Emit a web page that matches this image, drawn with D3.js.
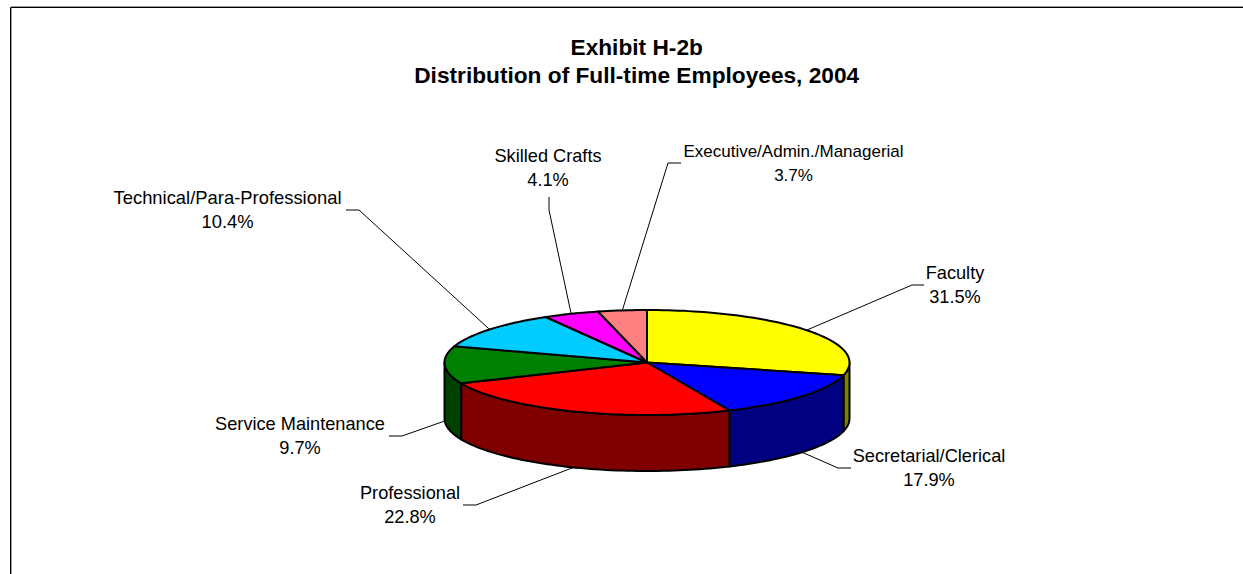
<!DOCTYPE html>
<html><head><meta charset="utf-8">
<script src="https://cdn.jsdelivr.net/npm/d3@7"></script>
<style>html,body{margin:0;padding:0;background:#fff;overflow:hidden}svg{display:block}text{font-family:"Liberation Sans",Arial,sans-serif;fill:#000}</style>
</head><body><div id="chart"></div>
<script>
const categories = ["Faculty","Secretarial/Clerical","Professional","Service Maintenance","Technical/Para-Professional","Skilled Crafts","Executive/Admin./Managerial"];
const shares = [31.5,17.9,22.8,9.7,10.4,4.1,3.7];
const shareLabels = ["31.5%","17.9%","22.8%","9.7%","10.4%","4.1%","3.7%"];
const titleLines = ["Exhibit H-2b","Distribution of Full-time Employees, 2004"];
const topColors = ["#FFFF00","#0000FF","#FF0000","#008000","#00CCFF","#FF00FF","#FF8080"];
const sideColors = ["#808000","#000080","#800000","#004000","#006680","#800080","#804040"];
// The 3-D perspective of the original compresses some slices: true angle -> drawn ellipse angle (degrees)
const projectedEnds = [0,104,156,246.6,288,330,346,360];
// Label layout: label centre x, first baseline y, font size, elbow x/y, leader end x/y
const labelX = [955,929,410,300,227.5,548,793.5];
const labelY = [279,462,499,430,204,162,157];
const labelSize = [18.2,18.2,18.2,18.2,18.4,18.2,17];
const elbowX = [912,838,476,402,359,549,668];
const elbowY = [285,468,505,436,210,210,163];
const tailX  = [924,851,463,389,346,549,681];
const tailY  = [285,468,505,436,210,197,163];

const W=1243,H=574, cx=647, cy=362.5, rx=202.5, ry=52.5, depth=56;
const svg=d3.select("#chart").append("svg").attr("width",W).attr("height",H);

// chart frame (runs off the right and bottom of the picture)
svg.append("path").attr("d",`M${W} 6.5H11.5V${H}`).attr("fill","none").attr("stroke","#999").attr("stroke-width",1);
svg.append("path").attr("d",`M${W} 7.5H10.5V${H}`).attr("fill","none").attr("stroke","#000").attr("stroke-width",1);

svg.selectAll("text.title").data(titleLines).join("text").attr("class","title")
  .attr("x",636.7).attr("y",(d,i)=>54.5+i*28).attr("text-anchor","middle")
  .attr("font-size",22.7).attr("font-weight","bold").text(d=>d);

const arcs=d3.pie().sort(null).value(d=>d)(shares);
const trueDeg=[0,...arcs.map(a=>a.endAngle*180/Math.PI)];
const project=d3.scaleLinear().domain(trueDeg).range(projectedEnds);
const slices=arcs.map((a,i)=>({i,t0:project(a.startAngle*180/Math.PI),t1:project(a.endAngle*180/Math.PI)}));
const pt=(t,dy=0)=>[cx+rx*Math.sin(t*Math.PI/180),cy-ry*Math.cos(t*Math.PI/180)+dy];
const samples=(t0,t1,dy=0)=>{const n=Math.max(2,Math.ceil((t1-t0)/1.5));return d3.range(n+1).map(k=>pt(t0+(t1-t0)*k/n,dy));};
const line=d3.line().curve(d3.curveLinear);

// side walls: only the front half of the ellipse (90..270 degrees) shows
const walls=slices.map(s=>({...s,a:Math.max(s.t0,90),b:Math.min(s.t1,270)})).filter(s=>s.b>s.a);
svg.selectAll("path.wall").data(walls).join("path").attr("class","wall")
  .attr("d",s=>line([...samples(s.a,s.b),...samples(s.a,s.b,depth).reverse()])+"Z")
  .attr("fill",s=>sideColors[s.i]).attr("stroke","#000").attr("stroke-width",2).attr("stroke-linejoin","round");

// top faces
svg.selectAll("path.top").data(slices).join("path").attr("class","top")
  .attr("d",s=>line([[cx,cy],...samples(s.t0,s.t1)])+"Z")
  .attr("fill",s=>topColors[s.i]).attr("stroke","#000").attr("stroke-width",2).attr("stroke-linejoin","round");

// leader lines start on the visible rim at each slice's mid-angle
svg.selectAll("path.leader").data(slices).join("path").attr("class","leader")
  .attr("d",s=>{const m=(s.t0+s.t1)/2,p=pt(m,(m>90&&m<270)?depth:0);
    return line([p,[elbowX[s.i],elbowY[s.i]],[tailX[s.i],tailY[s.i]]]);})
  .attr("fill","none").attr("stroke","#000").attr("stroke-width",1);

const lab=svg.selectAll("g.label").data(slices).join("g").attr("class","label");
lab.append("text").attr("x",s=>labelX[s.i]).attr("y",s=>labelY[s.i]).attr("text-anchor","middle").attr("font-size",s=>labelSize[s.i]).text(s=>categories[s.i]);
lab.append("text").attr("x",s=>labelX[s.i]).attr("y",s=>labelY[s.i]+24).attr("text-anchor","middle").attr("font-size",s=>labelSize[s.i]).text(s=>shareLabels[s.i]);
</script></body></html>
